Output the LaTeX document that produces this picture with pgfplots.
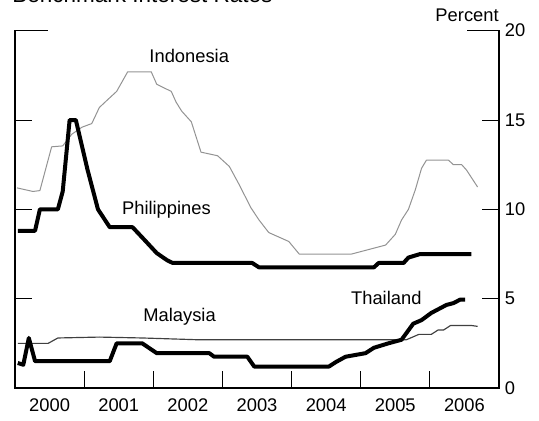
\documentclass[border=0pt]{standalone}
\usepackage{fontspec}
\setmainfont{Liberation Sans}
\usepackage{pgfplots}
\pgfplotsset{compat=1.18}

% 1 px of the reference = 0.6pt
\pgfplotstableread{
x y
2000.03 11.2
2000.26 11.0
2000.36 11.05
2000.53 13.5
2000.69 13.55
2000.82 14.2
2000.97 14.6
2001.11 14.8
2001.22 15.7
2001.33 16.1
2001.47 16.6
2001.63 17.7
2001.97 17.7
2002.05 17.0
2002.26 16.6
2002.33 16.0
2002.41 15.5
2002.55 14.9
2002.69 13.2
2002.93 13.0
2003.10 12.4
2003.24 11.4
2003.41 10.1
2003.53 9.4
2003.67 8.7
2003.96 8.2
2004.11 7.5
2004.87 7.5
2005.36 8.0
2005.50 8.6
2005.59 9.4
2005.69 10.0
2005.79 11.1
2005.88 12.3
2005.95 12.75
2006.27 12.75
2006.34 12.5
2006.46 12.5
2006.53 12.2
2006.69 11.25
}\indonesia

\pgfplotstableread{
x y
2000.04 8.8
2000.29 8.8
2000.36 10.0
2000.62 10.0
2000.69 11.0
2000.79 15.0
2000.88 15.0
2001.05 12.2
2001.20 10.0
2001.37 9.0
2001.70 9.0
2001.87 8.3
2002.05 7.55
2002.20 7.15
2002.28 7.0
2003.43 7.0
2003.53 6.75
2005.19 6.75
2005.26 7.0
2005.62 7.0
2005.69 7.3
2005.86 7.5
2006.60 7.5
}\philippines

\pgfplotstableread{
x y
2000.04 2.5
2000.48 2.5
2000.62 2.8
2001.22 2.85
2001.84 2.8
2002.65 2.7
2005.66 2.7
2005.84 3.0
2006.02 3.0
2006.12 3.25
2006.20 3.25
2006.30 3.5
2006.60 3.5
2006.69 3.45
}\malaysia

\pgfplotstableread{
x y
2000.04 1.4
2000.12 1.3
2000.20 2.8
2000.29 1.5
2001.37 1.5
2001.47 2.5
2001.84 2.5
2002.05 1.95
2002.81 1.95
2002.88 1.75
2003.36 1.75
2003.46 1.2
2004.54 1.2
2004.64 1.45
2004.78 1.75
2005.07 1.95
2005.19 2.25
2005.40 2.5
2005.59 2.7
2005.76 3.6
2005.88 3.8
2006.02 4.2
2006.24 4.65
2006.34 4.75
2006.44 4.95
2006.51 4.95
}\thailand

\begin{document}
\begin{tikzpicture}
\begin{axis}[
    at={(0,0)}, anchor=south west,
    scale only axis,
    width=290.4pt, height=214.4pt,
    xmin=2000, xmax=2007,
    ymin=0, ymax=20,
    axis line style={draw=none},
    tick align=inside,
    major tick length=10.2pt,
    tick style={black, line width=0.6pt},
    xtick={2001,2002,2003,2004,2005,2006},
    xticklabels={,,,,,},
    xtick pos=left,
    extra x ticks={2000.5,2001.5,2002.5,2003.5,2004.5,2005.5,2006.5},
    extra x tick labels={2000,2001,2002,2003,2004,2005,2006},
    extra x tick style={major tick length=0pt},
    xticklabel style={anchor=center, yshift=-10.2pt},
    ytick={0,5,...,20},
    ytick pos=both,
    yticklabel pos=right,
    yticklabel style={anchor=west, xshift=0pt},
    /pgf/number format/assume math mode=true,
    ticklabel style={font=\fontsize{11}{13}\selectfont},
    clip=false,
]
\addplot[gray!85, line width=0.6pt, line join=round] table {\indonesia};
\addplot[black!75, line width=0.7pt, line join=round] table {\malaysia};
\addplot[black, line width=2.4pt, line join=round] table {\philippines};
\addplot[black, line width=2.4pt, line join=round] table {\thailand};

% frame: left, bottom, right, with short stubs on top
\draw[line width=0.8pt] (rel axis cs:0.068,1) -- (rel axis cs:0,1) -- (rel axis cs:0,0)
    -- (rel axis cs:1,0) -- (rel axis cs:1,1) -- (rel axis cs:0.934,1);

\node[font=\fontsize{11}{13}\selectfont] at (axis cs:2002.52,18.6) {Indonesia};
\node[font=\fontsize{11}{13}\selectfont] at (axis cs:2002.19,9.97) {Philippines};
\node[font=\fontsize{11}{13}\selectfont] at (axis cs:2002.38,3.98) {Malaysia};
\node[font=\fontsize{11}{13}\selectfont] at (axis cs:2005.37,5.04) {Thailand};
\node[font=\fontsize{11}{13}\selectfont, anchor=base east, inner sep=0pt]
    at ([yshift=5.5pt]rel axis cs:1,1) {Percent};
\end{axis}
\node[font=\fontsize{13.5}{16}\selectfont, anchor=base west, inner sep=0pt]
    at (-1.8pt,231.4pt) {Benchmark Interest Rates};
\pgfresetboundingbox
\useasboundingbox (-9pt,-19.2pt) rectangle (314.4pt,232.8pt);
\end{tikzpicture}
\end{document}
